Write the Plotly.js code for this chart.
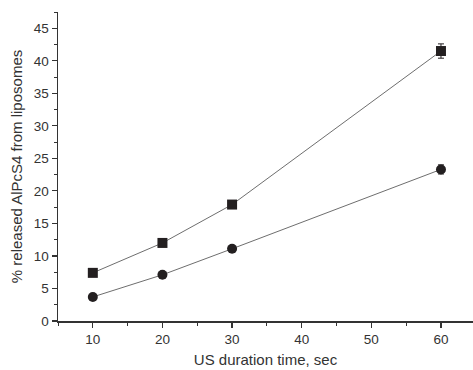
<!DOCTYPE html>
<html>
<head>
<meta charset="utf-8">
<script src="https://cdn.plot.ly/plotly-3.0.1.min.js"></script>
<style>
  html, body { margin: 0; padding: 0; background: #fff; }
  #chart { width: 473px; height: 370px; }
</style>
</head>
<body>
<div id="chart"></div>
<script>
// Ultrasound exposure time (sec)
const durations = [10, 20, 30, 60];
// % AlPcS4 released, upper series (squares) and lower series (circles)
const releaseSquares = [7.4, 12.0, 17.9, 41.5];
const errSquares = [0.3, 0.3, 0.3, 1.1];
const releaseCircles = [3.7, 7.1, 11.1, 23.3];
const errCircles = [0.3, 0.3, 0.3, 0.7];

const ink = '#231f20';
const lineGray = '#6e6e6e';

function series(y, err, symbol, size) {
  return {
    x: durations,
    y: y,
    type: 'scatter',
    mode: 'lines+markers',
    line: { color: lineGray, width: 1 },
    marker: { symbol: symbol, size: size, color: ink },
    error_y: { type: 'data', array: err, visible: true, color: ink, thickness: 1, width: 3 },
    showlegend: false,
    hoverinfo: 'skip'
  };
}

const data = [
  series(releaseSquares, errSquares, 'square', 10),
  series(releaseCircles, errCircles, 'circle', 10)
];

const tickFont = { family: 'Liberation Sans, Arial, sans-serif', size: 13.5, color: '#333' };
const titleFont = { family: 'Liberation Sans, Arial, sans-serif', size: 15, color: '#333' };

const layout = {
  width: 473,
  height: 370,
  margin: { l: 58, r: 0, t: 12, b: 49 },
  paper_bgcolor: '#fff',
  plot_bgcolor: '#fff',
  xaxis: {
    range: [5, 64.6],
    tickmode: 'array',
    tickvals: [10, 20, 30, 40, 50, 60],
    ticks: 'outside',
    ticklen: 5,
    tickwidth: 1.2,
    tickcolor: '#333',
    minor: { tickvals: [5, 15, 25, 35, 45, 55], ticks: 'outside', ticklen: 3, tickwidth: 1, tickcolor: '#333' },
    showgrid: false,
    zeroline: false,
    showline: true,
    linecolor: '#333',
    linewidth: 1.5,
    tickfont: tickFont,
    title: { text: 'US duration time, sec', font: titleFont, standoff: 9 }
  },
  yaxis: {
    range: [0, 47.5],
    tickmode: 'array',
    tickvals: [0, 5, 10, 15, 20, 25, 30, 35, 40, 45],
    ticks: 'outside',
    ticklen: 5,
    tickwidth: 1.2,
    tickcolor: '#333',
    minor: { tickvals: [2.5, 7.5, 12.5, 17.5, 22.5, 27.5, 32.5, 37.5, 42.5, 47.5], ticks: 'outside', ticklen: 3, tickwidth: 1, tickcolor: '#333' },
    showgrid: false,
    zeroline: false,
    showline: true,
    linecolor: '#333',
    linewidth: 1.5,
    tickfont: tickFont,
    title: { text: '% released AlPcS4 from liposomes', font: titleFont, standoff: 7 }
  }
};

Plotly.newPlot('chart', data, layout, { staticPlot: true, displayModeBar: false });
</script>
</body>
</html>
